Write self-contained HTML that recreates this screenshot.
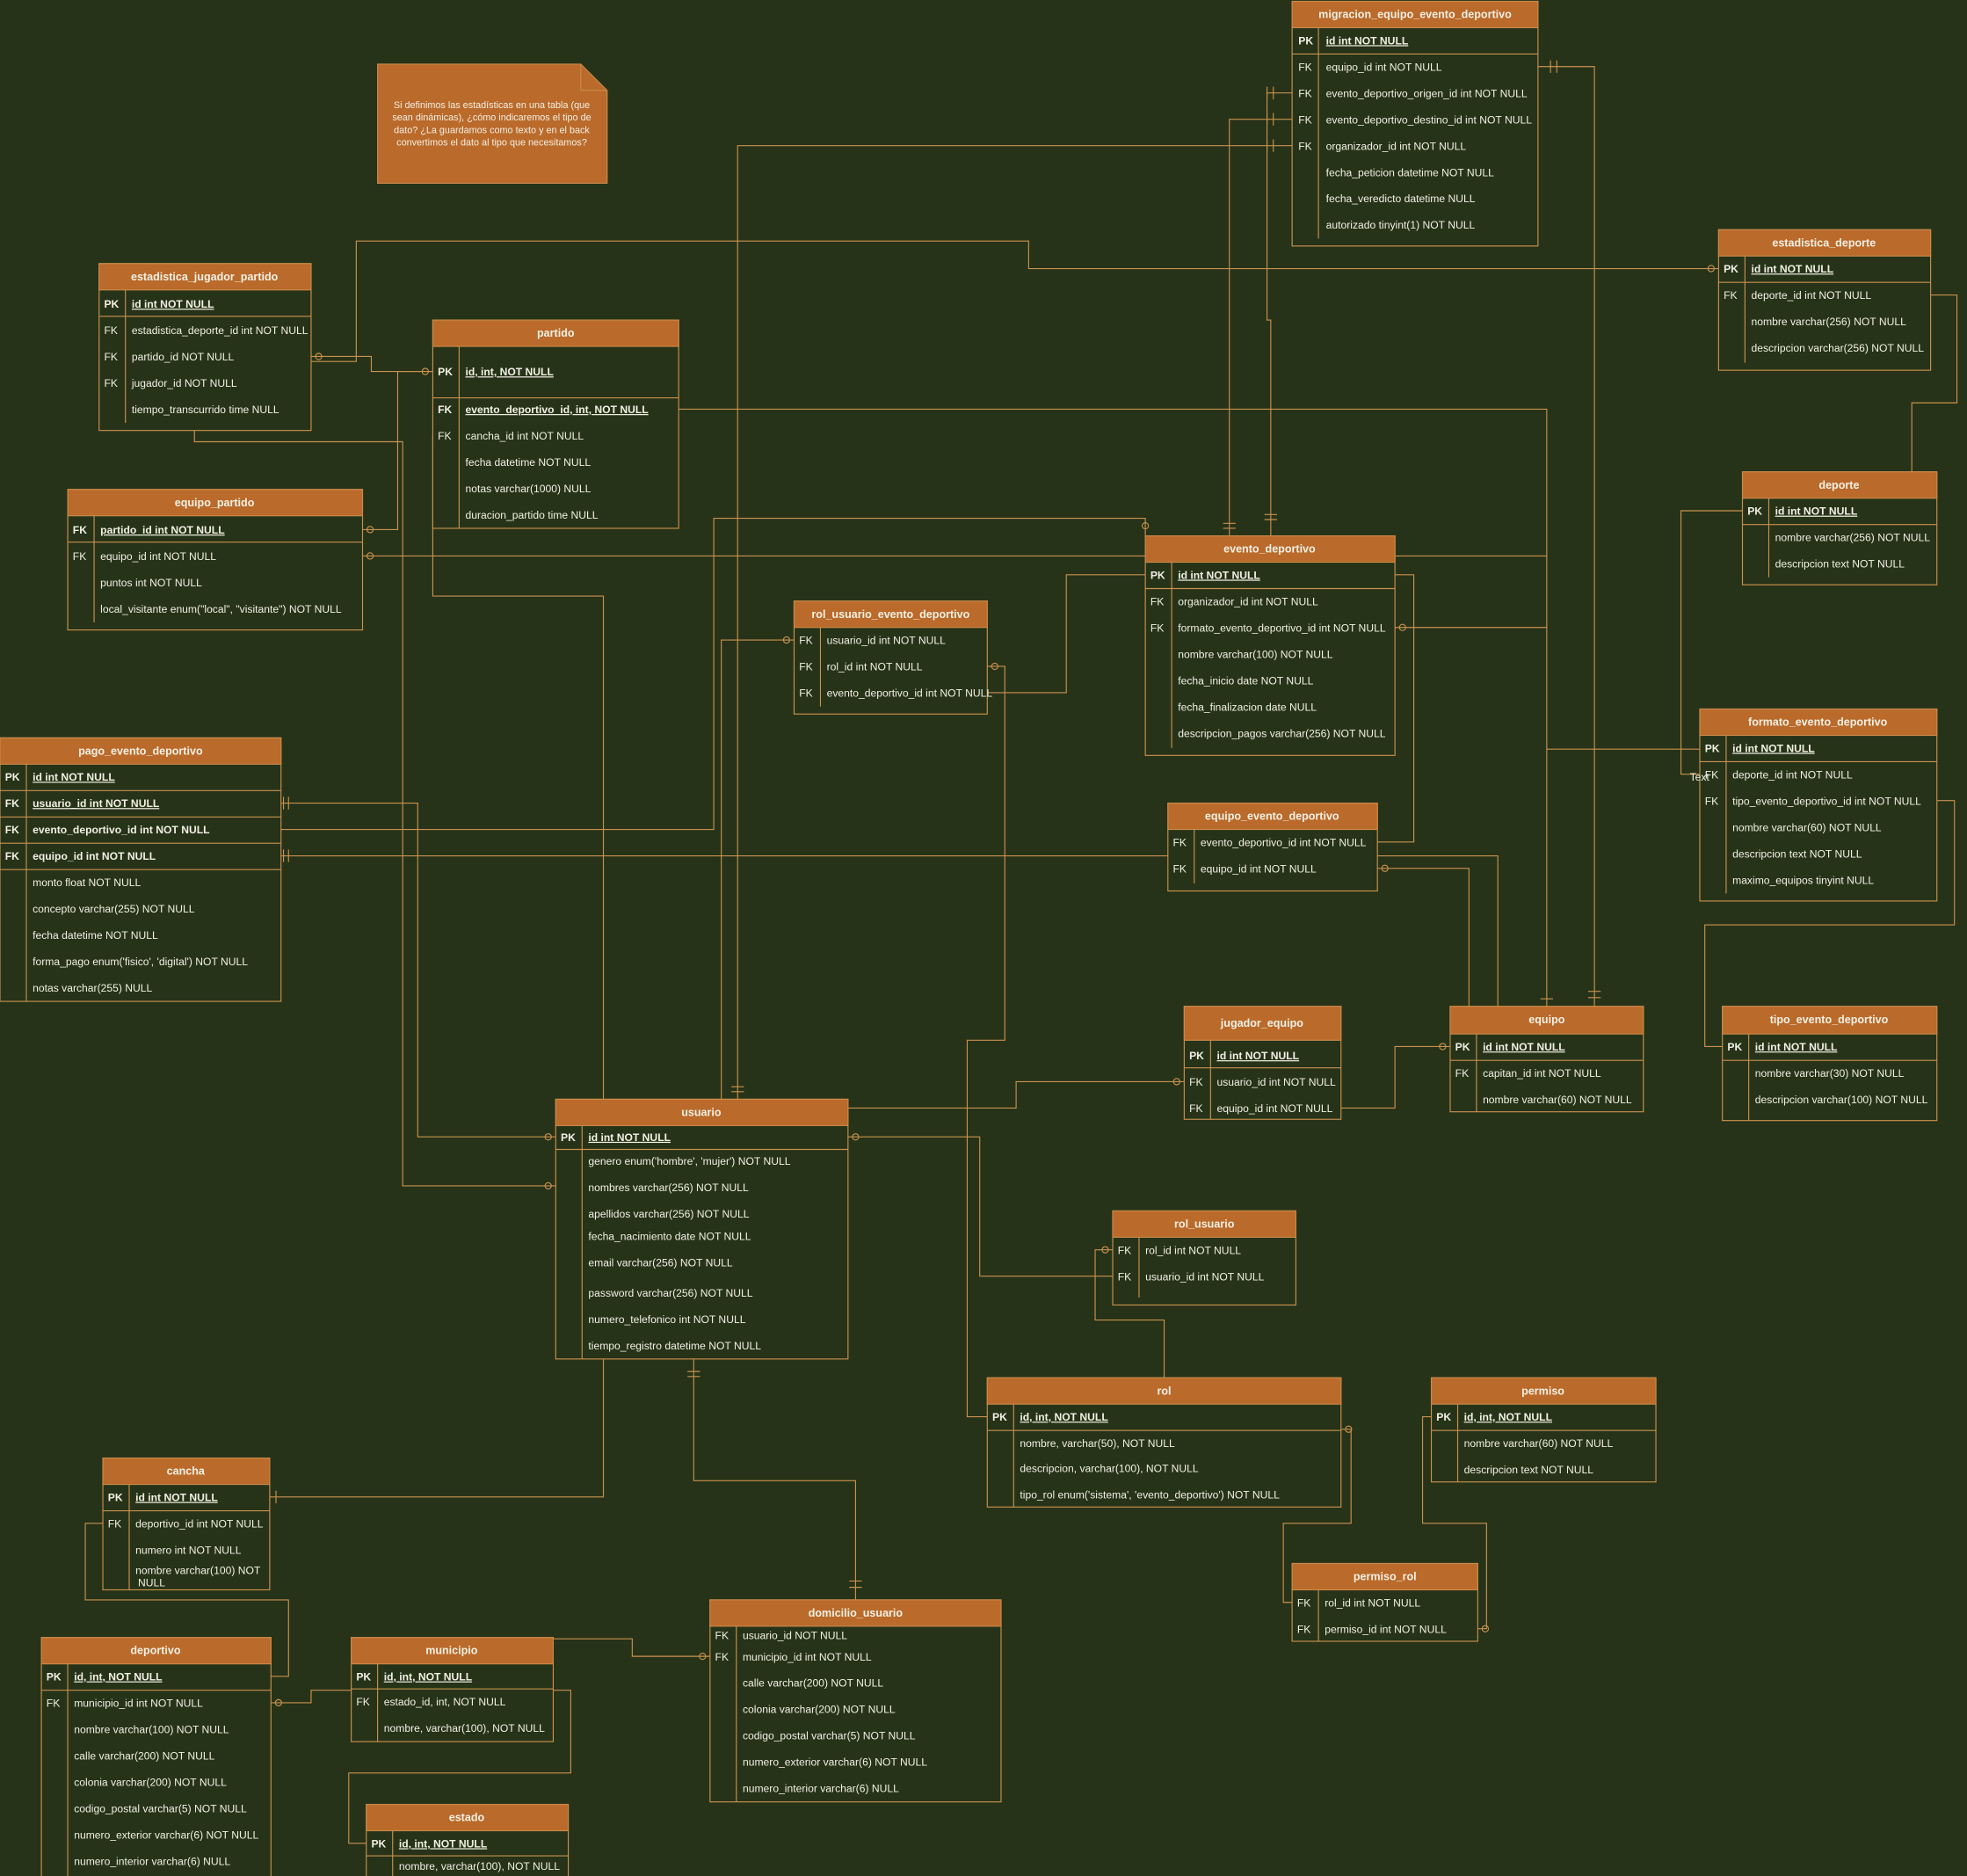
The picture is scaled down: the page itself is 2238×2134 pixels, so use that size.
<!DOCTYPE html>
<html><head><meta charset="utf-8"><style>
html,body{margin:0;padding:0;background:#263318;}
svg{display:block}
text{font-family:"Liberation Sans",sans-serif;fill:#f2f0e4;font-size:8.5px;dominant-baseline:middle}
.hd{fill:#ba6a2a;stroke:#c98a4a;stroke-width:.8}
.bd{fill:#263318;stroke:#c9914f;stroke-width:.8}
.ln{stroke:#c9914f;stroke-width:.8;fill:none}
.ti{font-weight:bold;text-anchor:middle;font-size:8.8px}
.k{font-weight:bold}
.u{text-decoration:underline;font-weight:bold}
.c{fill:none;stroke:#c9914f;stroke-width:.8}
</style></head><body>
<svg width="2238" height="2134" viewBox="0 0 1568 1495" xmlns="http://www.w3.org/2000/svg">
<rect width="1568" height="1495" fill="#263318"/>

<g class="c">
<polyline points="1226,53 1271,53 1271,802"/>
<polyline points="1030,74 1010,74 1010,255 1013,255 1013,427"/>
<polyline points="1030,95 980,95 980,427"/>
<polyline points="1030,116 588,116 588,876"/>
<polyline points="1370,214 820,214 820,192 284,192 284,288 248,288"/>
<polyline points="1539,235 1560,235 1560,321 1524,321 1524,407 1544,407"/>
<polyline points="248,284 296,284 296,296 345,296"/>
<polyline points="155,343 155,352 321,352 321,945 443,945"/>
<polyline points="289,422 317,422 317,296 345,296"/>
<polyline points="289,443 1233,443 1233,802"/>
<polyline points="541,326 1233,326 1233,443"/>
<polyline points="345,347 345,475 481,475 481,1193 215,1193"/>
<polyline points="224,640 333,640 333,906 443,906"/>
<polyline points="224,661 569,661 569,413 913,413 913,427"/>
<polyline points="224,682 1194,682 1194,802"/>
<polyline points="633,510 575,510 575,876"/>
<polyline points="787,531 801,531 801,829 771,829 771,1129 787,1129"/>
<polyline points="787,552 850,552 850,458 913,458"/>
<polyline points="1112,458 1127,458 1127,671 1098,671"/>
<polyline points="1112,500 1233,500"/>
<polyline points="1233,597 1355,597"/>
<polyline points="1355,617 1340,617 1340,407 1389,407"/>
<polyline points="1544,638 1558,638 1558,737 1359,737 1359,834 1373,834"/>
<polyline points="1098,692 1171,692 1171,802"/>
<polyline points="944,862 810,862 810,883 676,883"/>
<polyline points="1069,883 1112,883 1112,834 1156,834"/>
<polyline points="676,906 781,906 781,1017 887,1017"/>
<polyline points="887,996 873,996 873,1052 928,1052 928,1098"/>
<polyline points="553,1083 553,1180 682,1180 682,1275"/>
<polyline points="1069,1139 1077,1139 1077,1214 1023,1214 1023,1277 1030,1277"/>
<polyline points="1141,1129 1134,1129 1134,1214 1185,1214 1185,1298 1178,1298"/>
<polyline points="82,1214 68,1214 68,1275 230,1275 230,1336 216,1336"/>
<polyline points="216,1357 248,1357 248,1347 280,1347"/>
<polyline points="384,1306 504,1306 504,1320 566,1320"/>
<polyline points="441,1347 455,1347 455,1413 278,1413 278,1469 292,1469"/>
<path d="M1236,48v10M1241,48v10M1010,69v10M1015,69v10M1010,90v10M1015,90v10M1010,111v10M1015,111v10M975,417h10M975,421h10M1008,410h10M1008,414h10M583,866h10M583,870h10M1266,790h10M1266,795h10M1228,796h10M548,1093h10M548,1097h10M677,1260h10M677,1265h10M215,1188v10M220,1188v10M226,635v10M230,635v10M226,677v10M230,677v10M1538,402v10M1535,402v10"/>
<circle cx="1364" cy="214" r="2.5"/><circle cx="254" cy="284" r="2.5"/><circle cx="339" cy="296" r="2.5"/><circle cx="295" cy="422" r="2.5"/><circle cx="295" cy="443" r="2.5"/><circle cx="437" cy="906" r="2.5"/><circle cx="437" cy="945" r="2.5"/><circle cx="627" cy="510" r="2.5"/><circle cx="793" cy="531" r="2.5"/><circle cx="1118" cy="500" r="2.5"/><circle cx="1104" cy="692" r="2.5"/><circle cx="938" cy="862" r="2.5"/><circle cx="1150" cy="834" r="2.5"/><circle cx="682" cy="906" r="2.5"/><circle cx="881" cy="996" r="2.5"/><circle cx="1075" cy="1139" r="2.5"/><circle cx="560" cy="1320" r="2.5"/><circle cx="222" cy="1357" r="2.5"/><circle cx="1184" cy="1298" r="2.5"/><circle cx="913" cy="419" r="2.5"/>
</g>

<path d="M301,51 H463 L484,72 V146 H301 Z" fill="#ba6a2a" stroke="#c98a4a" stroke-width=".8"/>
<path d="M463,51 V72 H484" fill="none" stroke="#c98a4a" stroke-width=".8"/>
<text x="392" y="84" text-anchor="middle" style="font-size:7.6px">Si definimos las estadísticas en una tabla (que</text>
<text x="392" y="94" text-anchor="middle" style="font-size:7.6px">sean dinámicas), ¿cómo indicaremos el tipo de</text>
<text x="392" y="104" text-anchor="middle" style="font-size:7.6px">dato? ¿La guardamos como texto y en el back</text>
<text x="392" y="114" text-anchor="middle" style="font-size:7.6px">convertimos el dato al tipo que necesitamos?</text>

<rect class="bd" x="1030" y="1" width="196" height="195"/><rect class="hd" x="1030" y="1" width="196" height="21"/>
<text class="ti" x="1128" y="12">migracion_equipo_evento_deportivo</text>
<line class="ln" x1="1030" y1="43" x2="1226" y2="43"/><line class="ln" x1="1051" y1="22" x2="1051" y2="190"/>
<text class="k" x="1035" y="33">PK</text><text class="u" x="1057" y="33">id int NOT NULL</text>
<text x="1035" y="54">FK</text><text x="1057" y="54">equipo_id int NOT NULL</text>
<text x="1035" y="75">FK</text><text x="1057" y="75">evento_deportivo_origen_id int NOT NULL</text>
<text x="1035" y="96">FK</text><text x="1057" y="96">evento_deportivo_destino_id int NOT NULL</text>
<text x="1035" y="117">FK</text><text x="1057" y="117">organizador_id int NOT NULL</text>
<text x="1057" y="138">fecha_peticion datetime NOT NULL</text>
<text x="1057" y="159">fecha_veredicto datetime NULL</text>
<text x="1057" y="180">autorizado tinyint(1) NOT NULL</text>

<rect class="bd" x="1370" y="183" width="169" height="112"/><rect class="hd" x="1370" y="183" width="169" height="21"/>
<text class="ti" x="1454" y="194">estadistica_deporte</text>
<line class="ln" x1="1370" y1="225" x2="1539" y2="225"/><line class="ln" x1="1391" y1="204" x2="1391" y2="289"/>
<text class="k" x="1374" y="215">PK</text><text class="u" x="1396" y="215">id int NOT NULL</text>
<text x="1374" y="236">FK</text><text x="1396" y="236">deporte_id int NOT NULL</text>
<text x="1396" y="257">nombre varchar(256) NOT NULL</text>
<text x="1396" y="278">descripcion varchar(256) NOT NULL</text>

<rect class="bd" x="79" y="210" width="169" height="133"/><rect class="hd" x="79" y="210" width="169" height="21"/>
<text class="ti" x="163" y="221">estadistica_jugador_partido</text>
<line class="ln" x1="79" y1="252" x2="248" y2="252"/><line class="ln" x1="100" y1="231" x2="100" y2="337"/>
<text class="k" x="83" y="243">PK</text><text class="u" x="105" y="243">id int NOT NULL</text>
<text x="83" y="264">FK</text><text x="105" y="264">estadistica_deporte_id int NOT NULL</text>
<text x="83" y="285">FK</text><text x="105" y="285">partido_id NOT NULL</text>
<text x="83" y="306">FK</text><text x="105" y="306">jugador_id NOT NULL</text>
<text x="105" y="327">tiempo_transcurrido time NULL</text>

<rect class="bd" x="345" y="255" width="196" height="166"/><rect class="hd" x="345" y="255" width="196" height="21"/>
<text class="ti" x="443" y="266">partido</text>
<line class="ln" x1="345" y1="317" x2="541" y2="317"/><line class="ln" x1="366" y1="276" x2="366" y2="421"/>
<text class="k" x="349" y="297">PK</text><text class="u" x="371" y="297">id, int, NOT NULL</text>
<text class="k" x="349" y="327">FK</text><text class="u" x="371" y="327">evento_deportivo_id, int, NOT NULL</text>
<text x="349" y="348">FK</text><text x="371" y="348">cancha_id int NOT NULL</text>
<text x="371" y="369">fecha datetime NOT NULL</text>
<text x="371" y="390">notas varchar(1000) NULL</text>
<text x="371" y="411">duracion_partido time NULL</text>

<rect class="bd" x="54" y="390" width="235" height="112"/><rect class="hd" x="54" y="390" width="235" height="21"/>
<text class="ti" x="171" y="401">equipo_partido</text>
<line class="ln" x1="54" y1="432" x2="289" y2="432"/><line class="ln" x1="75" y1="411" x2="75" y2="496"/>
<text class="k" x="58" y="423">FK</text><text class="u" x="80" y="423">partido_id int NOT NULL</text>
<text x="58" y="444">FK</text><text x="80" y="444">equipo_id int NOT NULL</text>
<text x="80" y="465">puntos int NOT NULL</text>
<text x="80" y="486">local_visitante enum("local", "visitante") NOT NULL</text>

<rect class="bd" x="1389" y="376" width="155" height="90"/><rect class="hd" x="1389" y="376" width="155" height="21"/>
<text class="ti" x="1466" y="387">deporte</text>
<line class="ln" x1="1389" y1="418" x2="1544" y2="418"/><line class="ln" x1="1410" y1="397" x2="1410" y2="460"/>
<text class="k" x="1393" y="408">PK</text><text class="u" x="1415" y="408">id int NOT NULL</text>
<text x="1415" y="429">nombre varchar(256) NOT NULL</text>
<text x="1415" y="450">descripcion text NOT NULL</text>

<rect class="bd" x="913" y="427" width="199" height="175"/><rect class="hd" x="913" y="427" width="199" height="21"/>
<text class="ti" x="1012" y="438">evento_deportivo</text>
<line class="ln" x1="913" y1="469" x2="1112" y2="469"/><line class="ln" x1="934" y1="448" x2="934" y2="596"/>
<text class="k" x="917" y="459">PK</text><text class="u" x="939" y="459">id int NOT NULL</text>
<text x="917" y="480">FK</text><text x="939" y="480">organizador_id int NOT NULL</text>
<text x="917" y="501">FK</text><text x="939" y="501">formato_evento_deportivo_id int NOT NULL</text>
<text x="939" y="522">nombre varchar(100) NOT NULL</text>
<text x="939" y="543">fecha_inicio date NOT NULL</text>
<text x="939" y="564">fecha_finalizacion date NULL</text>
<text x="939" y="585">descripcion_pagos varchar(256) NOT NULL</text>

<rect class="bd" x="633" y="479" width="154" height="90"/><rect class="hd" x="633" y="479" width="154" height="21"/>
<text class="ti" x="710" y="490">rol_usuario_evento_deportivo</text>
<line class="ln" x1="654" y1="500" x2="654" y2="563"/>
<text x="637" y="511">FK</text><text x="659" y="511">usuario_id int NOT NULL</text>
<text x="637" y="532">FK</text><text x="659" y="532">rol_id int NOT NULL</text>
<text x="637" y="553">FK</text><text x="659" y="553">evento_deportivo_id int NOT NULL</text>

<rect class="bd" x="1355" y="565" width="189" height="153"/><rect class="hd" x="1355" y="565" width="189" height="21"/>
<text class="ti" x="1449" y="576">formato_evento_deportivo</text>
<line class="ln" x1="1355" y1="607" x2="1544" y2="607"/><line class="ln" x1="1376" y1="586" x2="1376" y2="712"/>
<text class="k" x="1359" y="597">PK</text><text class="u" x="1381" y="597">id int NOT NULL</text>
<text x="1359" y="618">FK</text><text x="1381" y="618">deporte_id int NOT NULL</text>
<text x="1359" y="639">FK</text><text x="1381" y="639">tipo_evento_deportivo_id int NOT NULL</text>
<text x="1381" y="660">nombre varchar(60) NOT NULL</text>
<text x="1381" y="681">descripcion text NOT NULL</text>
<text x="1381" y="702">maximo_equipos tinyint NULL</text>
<text x="1347" y="620">Text</text>

<rect class="bd" x="0" y="588" width="224" height="210"/><rect class="hd" x="0" y="588" width="224" height="21"/>
<text class="ti" x="112" y="599">pago_evento_deportivo</text>
<line class="ln" x1="0" y1="630" x2="224" y2="630"/><line class="ln" x1="0" y1="651" x2="224" y2="651"/><line class="ln" x1="0" y1="672" x2="224" y2="672"/><line class="ln" x1="0" y1="693" x2="224" y2="693"/>
<line class="ln" x1="21" y1="609" x2="21" y2="798"/>
<text class="k" x="4" y="620">PK</text><text class="u" x="26" y="620">id int NOT NULL</text>
<text class="k" x="4" y="641">FK</text><text class="u" x="26" y="641">usuario_id int NOT NULL</text>
<text class="k" x="4" y="662">FK</text><text class="k" x="26" y="662">evento_deportivo_id int NOT NULL</text>
<text class="k" x="4" y="683">FK</text><text class="k" x="26" y="683">equipo_id int NOT NULL</text>
<text x="26" y="704">monto float NOT NULL</text>
<text x="26" y="725">concepto varchar(255) NOT NULL</text>
<text x="26" y="746">fecha datetime NOT NULL</text>
<text x="26" y="767">forma_pago enum('fisico', 'digital') NOT NULL</text>
<text x="26" y="788">notas varchar(255) NULL</text>

<rect class="bd" x="931" y="640" width="167" height="70"/><rect class="hd" x="931" y="640" width="167" height="21"/>
<text class="ti" x="1014" y="651">equipo_evento_deportivo</text>
<line class="ln" x1="952" y1="661" x2="952" y2="704"/>
<text x="935" y="672">FK</text><text x="957" y="672">evento_deportivo_id int NOT NULL</text>
<text x="935" y="693">FK</text><text x="957" y="693">equipo_id int NOT NULL</text>

<rect class="bd" x="944" y="802" width="125" height="90"/><rect class="hd" x="944" y="802" width="125" height="27"/>
<text class="ti" x="1006" y="816">jugador_equipo</text>
<line class="ln" x1="944" y1="851" x2="1069" y2="851"/><line class="ln" x1="965" y1="829" x2="965" y2="892"/>
<text class="k" x="948" y="842">PK</text><text class="u" x="970" y="842">id int NOT NULL</text>
<text x="948" y="863">FK</text><text x="970" y="863">usuario_id int NOT NULL</text>
<text x="948" y="884">FK</text><text x="970" y="884">equipo_id int NOT NULL</text>

<rect class="bd" x="1156" y="802" width="154" height="84"/><rect class="hd" x="1156" y="802" width="154" height="22"/>
<text class="ti" x="1233" y="813">equipo</text>
<line class="ln" x1="1156" y1="845" x2="1310" y2="845"/><line class="ln" x1="1177" y1="824" x2="1177" y2="886"/>
<text class="k" x="1160" y="835">PK</text><text class="u" x="1182" y="835">id int NOT NULL</text>
<text x="1160" y="856">FK</text><text x="1182" y="856">capitan_id int NOT NULL</text>
<text x="1182" y="877">nombre varchar(60) NOT NULL</text>

<rect class="bd" x="1373" y="802" width="171" height="91"/><rect class="hd" x="1373" y="802" width="171" height="22"/>
<text class="ti" x="1458" y="813">tipo_evento_deportivo</text>
<line class="ln" x1="1373" y1="845" x2="1544" y2="845"/><line class="ln" x1="1394" y1="824" x2="1394" y2="893"/>
<text class="k" x="1377" y="835">PK</text><text class="u" x="1399" y="835">id int NOT NULL</text>
<text x="1399" y="856">nombre varchar(30) NOT NULL</text>
<text x="1399" y="877">descripcion varchar(100) NOT NULL</text>

<rect class="bd" x="443" y="876" width="233" height="207"/><rect class="hd" x="443" y="876" width="233" height="21"/>
<text class="ti" x="559" y="887">usuario</text>
<line class="ln" x1="443" y1="916" x2="676" y2="916"/><line class="ln" x1="464" y1="897" x2="464" y2="1083"/>
<text class="k" x="447" y="907">PK</text><text class="u" x="469" y="907">id int NOT NULL</text>
<text x="469" y="926">genero enum('hombre', 'mujer') NOT NULL</text>
<text x="469" y="947">nombres varchar(256) NOT NULL</text>
<text x="469" y="968">apellidos varchar(256) NOT NULL</text>
<text x="469" y="986">fecha_nacimiento date NOT NULL</text>
<text x="469" y="1007">email varchar(256) NOT NULL</text>
<text x="469" y="1031">password varchar(256) NOT NULL</text>
<text x="469" y="1052">numero_telefonico int NOT NULL</text>
<text x="469" y="1073">tiempo_registro datetime NOT NULL</text>

<rect class="bd" x="887" y="965" width="146" height="75"/><rect class="hd" x="887" y="965" width="146" height="21"/>
<text class="ti" x="960" y="976">rol_usuario</text>
<line class="ln" x1="908" y1="986" x2="908" y2="1034"/>
<text x="891" y="997">FK</text><text x="913" y="997">rol_id int NOT NULL</text>
<text x="891" y="1018">FK</text><text x="913" y="1018">usuario_id int NOT NULL</text>

<rect class="bd" x="787" y="1098" width="282" height="103"/><rect class="hd" x="787" y="1098" width="282" height="21"/>
<text class="ti" x="928" y="1109">rol</text>
<line class="ln" x1="787" y1="1140" x2="1069" y2="1140"/><line class="ln" x1="808" y1="1119" x2="808" y2="1201"/>
<text class="k" x="791" y="1130">PK</text><text class="u" x="813" y="1130">id, int, NOT NULL</text>
<text x="813" y="1151">nombre, varchar(50), NOT NULL</text>
<text x="813" y="1171">descripcion, varchar(100), NOT NULL</text>
<text x="813" y="1192">tipo_rol enum('sistema', 'evento_deportivo') NOT NULL</text>

<rect class="bd" x="1141" y="1098" width="179" height="83"/><rect class="hd" x="1141" y="1098" width="179" height="21"/>
<text class="ti" x="1230" y="1109">permiso</text>
<line class="ln" x1="1141" y1="1140" x2="1320" y2="1140"/><line class="ln" x1="1162" y1="1119" x2="1162" y2="1181"/>
<text class="k" x="1145" y="1130">PK</text><text class="u" x="1167" y="1130">id, int, NOT NULL</text>
<text x="1167" y="1151">nombre varchar(60) NOT NULL</text>
<text x="1167" y="1172">descripcion text NOT NULL</text>

<rect class="bd" x="82" y="1162" width="133" height="105"/><rect class="hd" x="82" y="1162" width="133" height="21"/>
<text class="ti" x="148" y="1173">cancha</text>
<line class="ln" x1="82" y1="1204" x2="215" y2="1204"/><line class="ln" x1="103" y1="1183" x2="103" y2="1267"/>
<text class="k" x="86" y="1194">PK</text><text class="u" x="108" y="1194">id int NOT NULL</text>
<text x="86" y="1215">FK</text><text x="108" y="1215">deportivo_id int NOT NULL</text>
<text x="108" y="1236">numero int NOT NULL</text>
<text x="108" y="1252">nombre varchar(100) NOT</text>
<text x="110" y="1262">NULL</text>

<rect class="bd" x="1030" y="1246" width="148" height="62"/><rect class="hd" x="1030" y="1246" width="148" height="21"/>
<text class="ti" x="1104" y="1257">permiso_rol</text>
<line class="ln" x1="1051" y1="1267" x2="1051" y2="1308"/>
<text x="1034" y="1278">FK</text><text x="1056" y="1278">rol_id int NOT NULL</text>
<text x="1034" y="1299">FK</text><text x="1056" y="1299">permiso_id int NOT NULL</text>

<rect class="bd" x="566" y="1275" width="232" height="161"/><rect class="hd" x="566" y="1275" width="232" height="21"/>
<text class="ti" x="682" y="1286">domicilio_usuario</text>
<line class="ln" x1="587" y1="1296" x2="587" y2="1436"/>
<text x="570" y="1304">FK</text><text x="592" y="1304">usuario_id NOT NULL</text>
<text x="570" y="1321">FK</text><text x="592" y="1321">municipio_id int NOT NULL</text>
<text x="592" y="1342">calle varchar(200) NOT NULL</text>
<text x="592" y="1363">colonia varchar(200) NOT NULL</text>
<text x="592" y="1384">codigo_postal varchar(5) NOT NULL</text>
<text x="592" y="1405">numero_exterior varchar(6) NOT NULL</text>
<text x="592" y="1426">numero_interior varchar(6) NULL</text>

<rect class="bd" x="33" y="1305" width="183" height="195"/><rect class="hd" x="33" y="1305" width="183" height="21"/>
<text class="ti" x="124" y="1316">deportivo</text>
<line class="ln" x1="33" y1="1347" x2="216" y2="1347"/><line class="ln" x1="54" y1="1326" x2="54" y2="1495"/>
<text class="k" x="37" y="1337">PK</text><text class="u" x="59" y="1337">id, int, NOT NULL</text>
<text x="37" y="1358">FK</text><text x="59" y="1358">municipio_id int NOT NULL</text>
<text x="59" y="1379">nombre varchar(100) NOT NULL</text>
<text x="59" y="1400">calle varchar(200) NOT NULL</text>
<text x="59" y="1421">colonia varchar(200) NOT NULL</text>
<text x="59" y="1442">codigo_postal varchar(5) NOT NULL</text>
<text x="59" y="1463">numero_exterior varchar(6) NOT NULL</text>
<text x="59" y="1484">numero_interior varchar(6) NULL</text>

<rect class="bd" x="280" y="1305" width="161" height="83"/><rect class="hd" x="280" y="1305" width="161" height="21"/>
<text class="ti" x="360" y="1316">municipio</text>
<line class="ln" x1="280" y1="1346" x2="441" y2="1346"/><line class="ln" x1="301" y1="1326" x2="301" y2="1388"/>
<text class="k" x="284" y="1337">PK</text><text class="u" x="306" y="1337">id, int, NOT NULL</text>
<text x="284" y="1357">FK</text><text x="306" y="1357">estado_id, int,  NOT NULL</text>
<text x="306" y="1378">nombre, varchar(100), NOT NULL</text>

<rect class="bd" x="292" y="1438" width="161" height="62"/><rect class="hd" x="292" y="1438" width="161" height="21"/>
<text class="ti" x="372" y="1449">estado</text>
<line class="ln" x1="292" y1="1479" x2="453" y2="1479"/><line class="ln" x1="313" y1="1459" x2="313" y2="1495"/>
<text class="k" x="296" y="1470">PK</text><text class="u" x="318" y="1470">id, int, NOT NULL</text>
<text x="318" y="1488">nombre, varchar(100), NOT NULL</text>
</svg>
</body></html>
